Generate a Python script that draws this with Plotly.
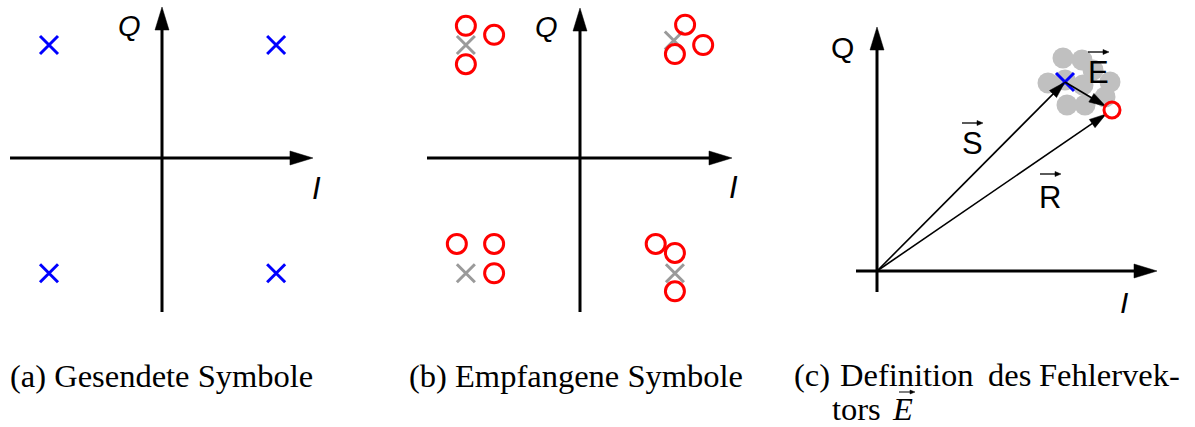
import math
import plotly.graph_objects as go

W, H = 1195, 427

# ---------------- data ----------------
# (a) transmitted QPSK symbols (I, Q)
TX_I = [-1.0, 1.01, -1.0, 1.01]
TX_Q = [1.0, 1.0, -1.02, -1.02]

# (b) ideal symbol positions (grey) and received symbols (red)
IDEAL_I = [-1.01, 0.83, -1.01, 0.84]
IDEAL_Q = [1.0, 1.04, -1.02, -1.02]
RX_I = [-1.01, -0.76, -1.01, 0.93, 1.09, 0.84, -1.09, -0.76, -0.76, 0.67, 0.84, 0.84]
RX_Q = [1.17, 1.09, 0.83, 1.18, 1.0, 0.92, -0.76, -0.76, -1.02, -0.76, -0.84, -1.18]

# (c) sent vector S, received vector R, noise cloud around S
S_VEC = (1.88, 1.89)
R_VEC = (2.35, 1.61)
CLOUD_DI = [-0.02, 0.17, -0.17, 0.0, 0.18, 0.28, 0.45, 0.40, 0.02, 0.20]
CLOUD_DQ = [0.24, 0.22, -0.01, 0.02, -0.03, 0.12, 0.00, -0.15, -0.23, -0.23]

# axis extents (tail, arrow tip) in data units
AXIS_A = {"x": (-1.345, 1.336), "y": (-1.363, 1.336)}
AXIS_B = {"x": (-1.354, 1.345), "y": (-1.363, 1.327)}
AXIS_C = {"x": (-0.21, 2.80), "y": (-0.21, 2.44)}

CAPTIONS = ["(a) Gesendete Symbole", "(b) Empfangene Symbole"]
CAPTION_C1 = ["(c)", "Definition", "des", "Fehlervek-"]
CAPTION_C2 = ["tors", "<i>E</i>"]

# ---------------- layout of the three panels (pixels) ----------------
PANELS = {
    "a": {"ax": ("x", "y"), "origin": (162, 158), "unit": (113.0, 113.0), "box": (0, 0, 345, 335)},
    "b": {"ax": ("x2", "y2"), "origin": (580, 158), "unit": (113.0, 113.0), "box": (400, 0, 760, 335)},
    "c": {"ax": ("x3", "y3"), "origin": (877, 271), "unit": (100.0, 100.0), "box": (825, 5, 1190, 335)},
}

BLUE = "#0000ff"
RED = "#ff0000"
GREY_X = "#9a9a9a"
CLOUD = "#c0c0c0"

fig = go.Figure()


def arrow(p, x0, y0, x1, y1, head_len, head_w, standoff=0.0):
    """Shaft and head polygon (data units) for an arrow drawn in panel p."""
    ux, uy = p["unit"]
    dx, dy = (x1 - x0) * ux, (y1 - y0) * uy
    d = math.hypot(dx, dy)
    ex, ey = dx / d, dy / d
    tx, ty = x1 - standoff * ex / ux, y1 - standoff * ey / uy
    bx, by = tx - head_len * ex / ux, ty - head_len * ey / uy
    nx, ny = -ey, ex
    lx, ly = bx + head_w / 2 * nx / ux, by + head_w / 2 * ny / uy
    rx, ry = bx - head_w / 2 * nx / ux, by - head_w / 2 * ny / uy
    sx, sy = bx + 2 * ex / ux, by + 2 * ey / uy
    return ([x0, sx], [y0, sy]), ([tx, lx, rx, tx], [ty, ly, ry, ty])


def draw_arrows(p, specs, width, head_len, head_w):
    xa, ya = p["ax"]
    lx, ly, hx, hy = [], [], [], []
    for (x0, y0, x1, y1, so) in specs:
        (sx, sy), (px, py) = arrow(p, x0, y0, x1, y1, head_len, head_w, so)
        lx += sx + [None]
        ly += sy + [None]
        hx += px + [None]
        hy += py + [None]
    fig.add_trace(go.Scatter(x=lx, y=ly, mode="lines", xaxis=xa, yaxis=ya,
                             line=dict(color="black", width=width), hoverinfo="skip",
                             showlegend=False, cliponaxis=False))
    fig.add_trace(go.Scatter(x=hx, y=hy, mode="lines", fill="toself", fillcolor="black",
                             xaxis=xa, yaxis=ya, line=dict(color="black", width=0.5),
                             hoverinfo="skip", showlegend=False, cliponaxis=False))


def draw_axes(p, ext):
    (x_lo, x_hi), (y_lo, y_hi) = ext["x"], ext["y"]
    draw_arrows(p, [(x_lo, 0, x_hi, 0, 0), (0, y_lo, 0, y_hi, 0)], 3, 23, 14)


def markers(p, x, y, **kw):
    xa, ya = p["ax"]
    fig.add_trace(go.Scatter(x=x, y=y, mode="markers", xaxis=xa, yaxis=ya,
                             hoverinfo="skip", showlegend=False, cliponaxis=False, **kw))


def cross(color, size=18, width=3):
    return dict(symbol="x-thin", size=size, color=color, line=dict(color=color, width=width))


def ring(size=19, width=3):
    return dict(symbol="circle-open", size=size, color=RED, line=dict(color=RED, width=width))


# ---- panel (a)
pa = PANELS["a"]
draw_axes(pa, AXIS_A)
markers(pa, TX_I, TX_Q, marker=cross(BLUE))

# ---- panel (b)
pb = PANELS["b"]
draw_axes(pb, AXIS_B)
markers(pb, IDEAL_I, IDEAL_Q, marker=cross(GREY_X))
markers(pb, RX_I, RX_Q, marker=ring())

# ---- panel (c)
pc = PANELS["c"]
draw_axes(pc, AXIS_C)
markers(pc, [S_VEC[0] + d for d in CLOUD_DI], [S_VEC[1] + d for d in CLOUD_DQ],
        marker=dict(symbol="circle", size=21, color=CLOUD, line=dict(width=0)))
markers(pc, [S_VEC[0]], [S_VEC[1]], marker=cross(BLUE))
draw_arrows(pc, [
    (0, 0, S_VEC[0], S_VEC[1], 0),
    (0, 0, R_VEC[0], R_VEC[1], 7),
    (S_VEC[0], S_VEC[1], R_VEC[0], R_VEC[1], 7),
], 1.6, 17, 10)
markers(pc, [R_VEC[0]], [R_VEC[1]], marker=ring(size=16))

# ---- hidden axes, used only as coordinate systems
layout_axes = {}
for key, p in PANELS.items():
    xa, ya = p["ax"]
    l, t, r, b = p["box"]
    ox, oy = p["origin"]
    ux, uy = p["unit"]
    layout_axes["xaxis" + xa[1:]] = dict(domain=[l / W, r / W], range=[(l - ox) / ux, (r - ox) / ux],
                                         visible=False, fixedrange=True, anchor=ya)
    layout_axes["yaxis" + ya[1:]] = dict(domain=[1 - b / H, 1 - t / H], range=[(oy - b) / uy, (oy - t) / uy],
                                         visible=False, fixedrange=True, anchor=xa)

# ---- text
SANS = "Liberation Sans, Arial, sans-serif"
SERIF = "Liberation Serif, Times New Roman, serif"
annotations = []
shapes = []


def text(px, py, s, size, family=SANS, xanchor="center", yanchor="middle", box_h=None):
    a = dict(x=px / W, y=1 - py / H, xref="paper", yref="paper", text=s,
             showarrow=False, xanchor=xanchor, yanchor=yanchor,
             font=dict(family=family, size=size, color="black"))
    if box_h is not None:
        a["height"] = box_h
        a["valign"] = "middle"
    annotations.append(a)


def accent(px0, px1, py, width=1.3, head_len=6, head_w=5):
    """Small vector arrow drawn above a letter."""
    fx = lambda v: v / W
    fy = lambda v: 1 - v / H
    shapes.append(dict(type="line", xref="paper", yref="paper", x0=fx(px0), x1=fx(px1 - head_len + 1),
                       y0=fy(py), y1=fy(py), line=dict(color="black", width=width)))
    path = "M{},{} L{},{} L{},{} Z".format(fx(px1), fy(py), fx(px1 - head_len), fy(py - head_w / 2),
                                          fx(px1 - head_len), fy(py + head_w / 2))
    shapes.append(dict(type="path", xref="paper", yref="paper", path=path,
                       fillcolor="black", line=dict(color="black", width=0.5)))


# axis names
text(129, 26, "<i>Q</i>", 29)
text(316, 188, "<i>I</i>", 31)
text(546, 27, "<i>Q</i>", 29)
text(733, 187, "<i>I</i>", 31)
text(842, 47, "Q", 30)
text(1124, 302, "<i>I</i>", 30)

# vector labels
text(972, 144, "S", 31)
accent(962, 983, 123)
text(1050, 197, "R", 31)
accent(1040, 1061, 174)
text(1098, 73, "E", 31)
accent(1088, 1109, 52)

# captions
CAP = 32.5
text(8, 376, CAPTIONS[0], CAP, SERIF, xanchor="left")
text(407, 376, CAPTIONS[1], CAP, SERIF, xanchor="left")
text(792, 375, CAPTION_C1[0], CAP, SERIF, xanchor="left")
text(838, 375, CAPTION_C1[1], CAP, SERIF, xanchor="left")
text(986, 375, CAPTION_C1[2], CAP, SERIF, xanchor="left")
text(1182, 375, CAPTION_C1[3], CAP, SERIF, xanchor="right")
text(830, 409, CAPTION_C2[0], CAP, SERIF, xanchor="left", box_h=24)
text(890, 409, CAPTION_C2[1], CAP, SERIF, xanchor="left", box_h=24)
accent(899, 915, 392, width=1.0, head_len=5, head_w=4)

fig.update_layout(
    width=W, height=H, margin=dict(l=0, r=0, t=0, b=0),
    paper_bgcolor="white", plot_bgcolor="rgba(0,0,0,0)",
    showlegend=False, annotations=annotations, shapes=shapes, **layout_axes,
)

fig.write_html("out.html")
